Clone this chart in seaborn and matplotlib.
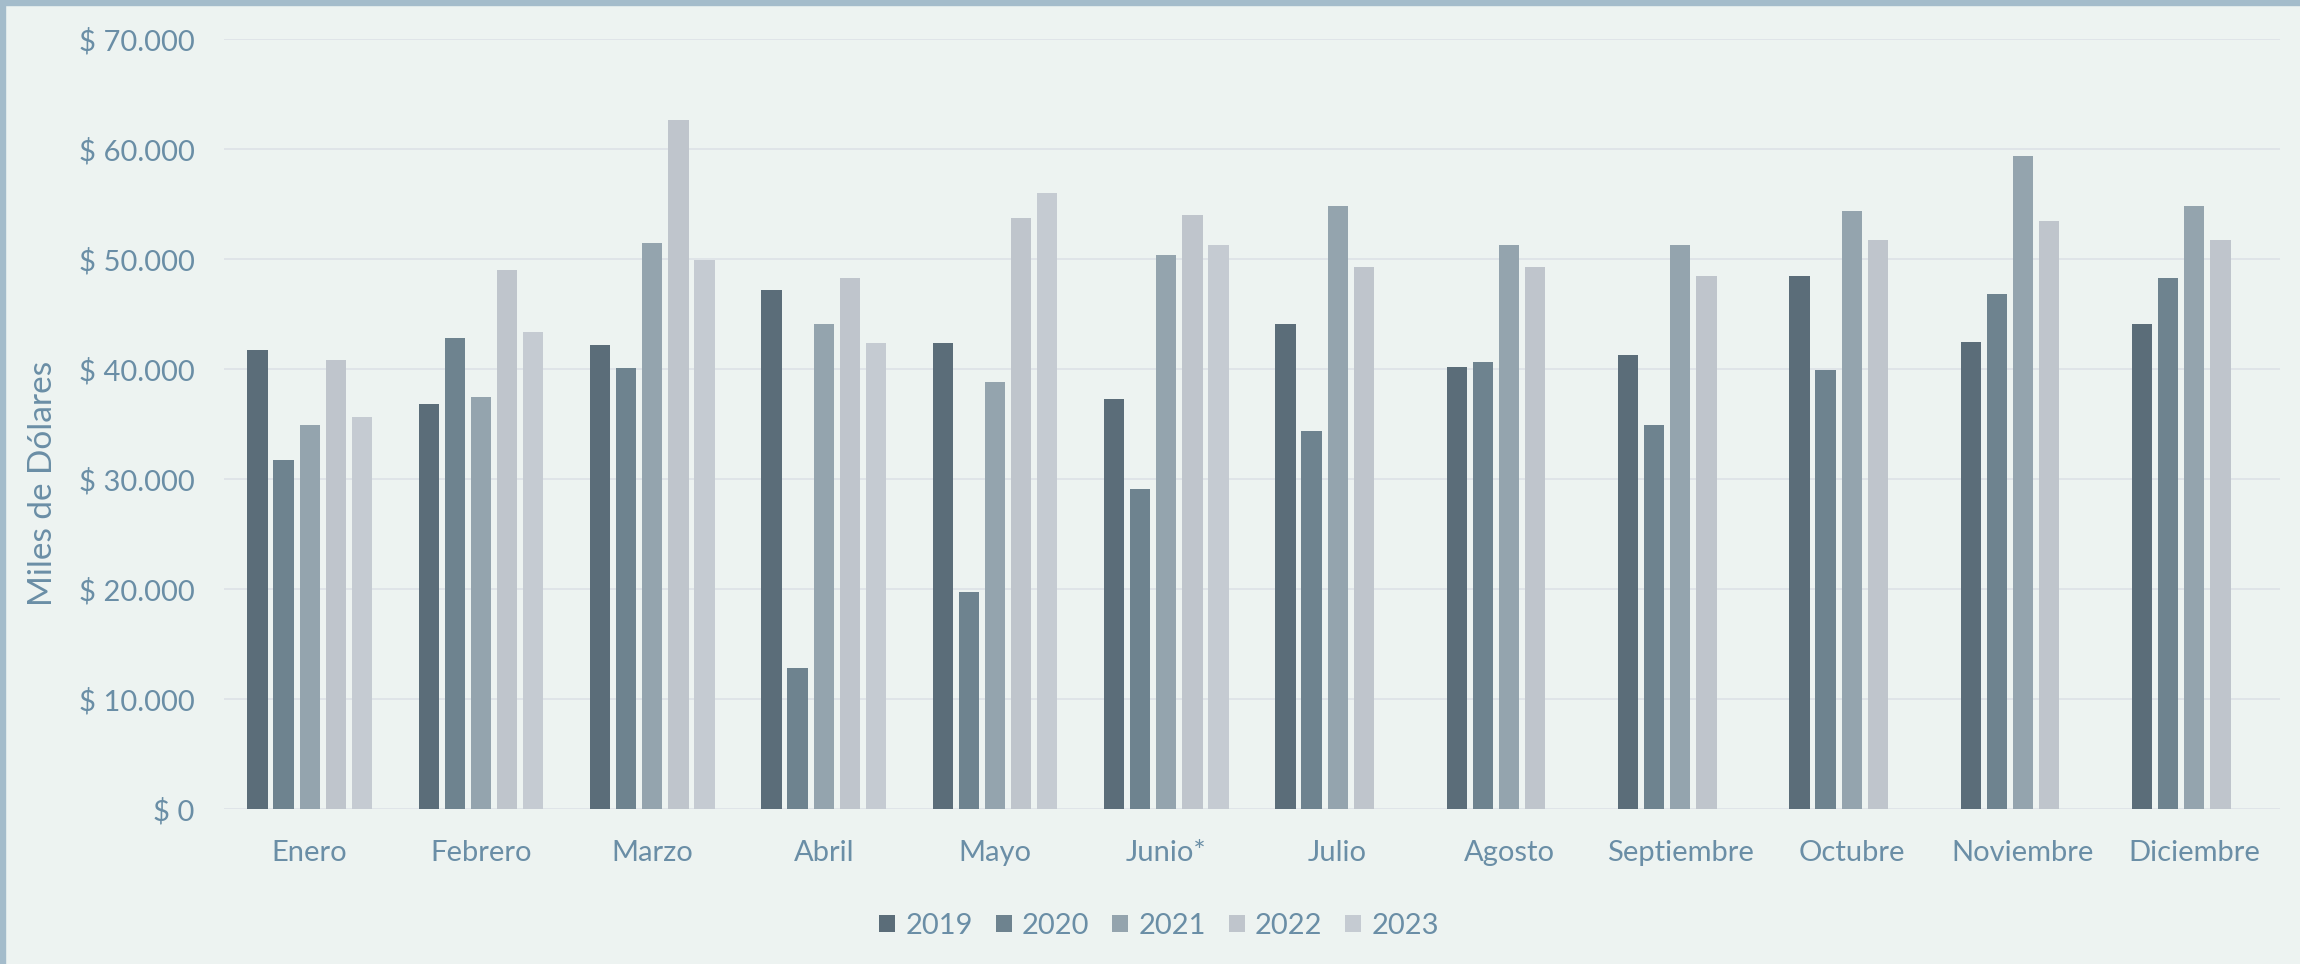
import numpy as np
import pandas as pd
import matplotlib
matplotlib.use("Agg")
import matplotlib.pyplot as plt
from matplotlib.patches import Rectangle
from matplotlib.ticker import FuncFormatter
import seaborn as sns

months = ["Enero", "Febrero", "Marzo", "Abril", "Mayo", "Junio*", "Julio",
          "Agosto", "Septiembre", "Octubre", "Noviembre", "Diciembre"]
years = ["2019", "2020", "2021", "2022", "2023"]
v2019 = [41.7, 36.8, 42.2, 47.2, 42.4, 37.3, 44.1, 40.2, 41.3, 48.5, 42.5, 44.1]
v2020 = [31.7, 42.8, 40.1, 12.8, 19.7, 29.1, 34.4, 40.6, 34.9, 39.9, 46.8, 48.3]
v2021 = [34.9, 37.5, 51.5, 44.1, 38.8, 50.4, 54.8, 51.3, 51.3, 54.4, 59.4, 54.8]
v2022 = [40.8, 49.0, 62.6, 48.3, 53.7, 54.0, 49.3, 49.3, 48.5, 51.7, 53.5, 51.7]
v2023 = [35.6, 43.4, 49.9, 42.4, 56.0, 51.3, np.nan, np.nan, np.nan, np.nan, np.nan, np.nan]
colors = ["#5b6d79", "#6e838f", "#94a4ae", "#bfc5cc", "#c5cbd2"]

series = [v2019, v2020, v2021, v2022, v2023]
rows = []
for y, vals in zip(years, series):
    for m, v in zip(months, vals):
        rows.append({"Mes": m, "Año": y, "Valor": v * 1000})
df = pd.DataFrame(rows)

sns.set_theme(style="white")
plt.rcParams["font.family"] = ["Lato", "DejaVu Sans"]

BG = "#edf3f1"
TXT = "#6a8ea6"
GRID = "#dee3e8"
W, H = 2300, 964
fig = plt.figure(figsize=(W / 100, H / 100), dpi=100, facecolor=BG)
ax = fig.add_axes([224 / W, 1 - 809 / H, (2280 - 224) / W, (809 - 39) / H])
ax.set_facecolor(BG)

sns.barplot(data=df, x="Mes", y="Valor", hue="Año", hue_order=years,
            order=months, palette=colors, width=0.76, gap=0.22,
            saturation=1, ax=ax, legend=True, err_kws={"linewidth": 0},
            linewidth=0, edgecolor="none")

ax.set_ylim(0, 70000)
ax.set_yticks(np.arange(0, 70001, 10000))
ax.yaxis.set_major_formatter(FuncFormatter(
    lambda v, p: "$ " + f"{int(v):,}".replace(",", ".")))
ax.grid(axis="y", color=GRID, linewidth=1.3)
ax.grid(axis="x", visible=False)
ax.set_axisbelow(True)
for s in ax.spines.values():
    s.set_visible(False)
ax.tick_params(axis="y", length=0, pad=21, labelsize=21, labelcolor=TXT)
ax.tick_params(axis="x", length=0, pad=22, labelsize=21, labelcolor=TXT)
ax.set_xlabel("")
ax.set_ylabel("")

fig.text(43 / W, 1 - 483 / H, "Miles de Dólares", rotation=90, ha="center",
         va="center", fontsize=24, color=TXT)

handles, labels = ax.get_legend_handles_labels()
ax.get_legend().remove()
fig.legend(handles, labels, loc="center", bbox_to_anchor=(0.504, 1 - 926 / H),
           ncol=5, frameon=False, fontsize=21, labelcolor=TXT,
           handlelength=0.55, handleheight=0.55, handletextpad=0.35,
           columnspacing=0.78)

fig.patches.append(Rectangle((0, 1 - 5 / H), 1, 5 / H, transform=fig.transFigure,
                             color="#a4bccb", zorder=10))
fig.patches.append(Rectangle((0, 0), 5 / W, 1, transform=fig.transFigure,
                             color="#a4bccb", zorder=10))

fig.savefig("out.png", dpi=100, facecolor=BG)
